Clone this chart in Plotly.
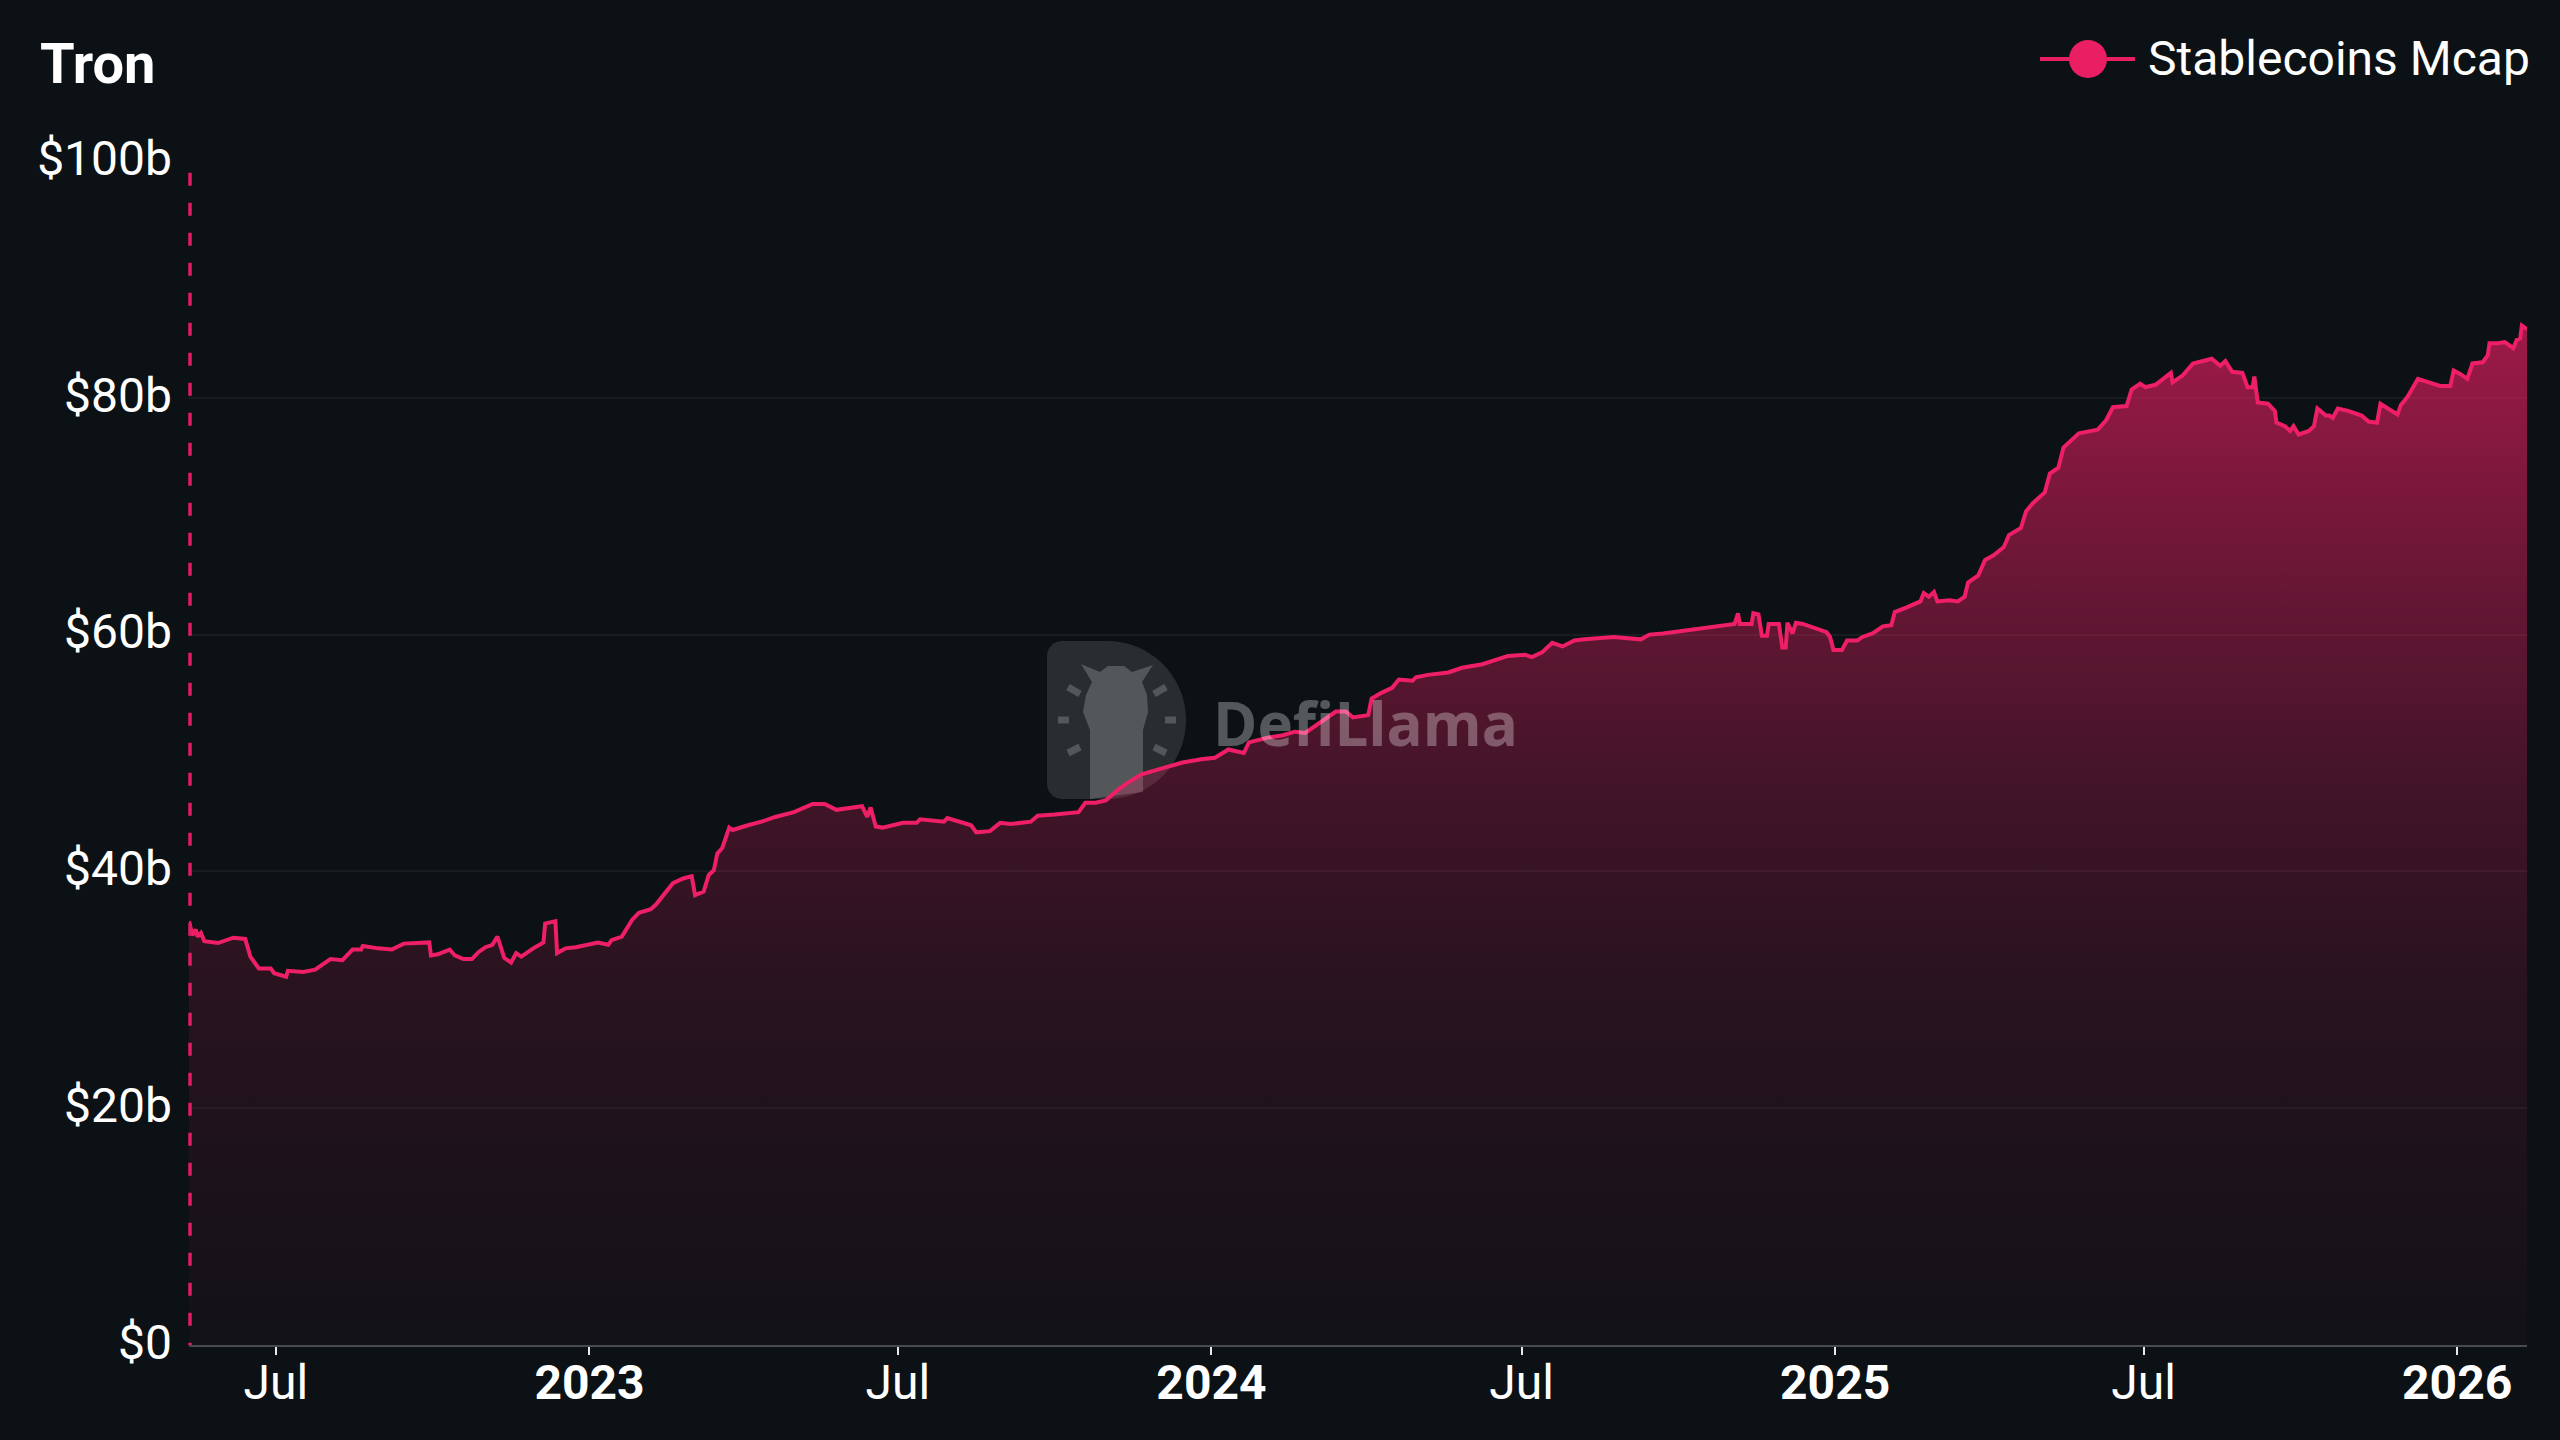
import plotly.graph_objects as go
import numpy as np

# ---------------- data ----------------
dates = [
    "2022-05-11", "2022-05-13", "2022-05-15", "2022-05-16", "2022-05-18", "2022-05-20",
    "2022-05-28", "2022-06-06", "2022-06-13", "2022-06-16", "2022-06-21", "2022-06-28",
    "2022-06-30", "2022-07-07", "2022-07-08", "2022-07-17", "2022-07-24", "2022-08-02",
    "2022-08-09", "2022-08-15", "2022-08-20", "2022-08-21", "2022-08-30", "2022-09-07",
    "2022-09-14", "2022-09-29", "2022-09-30", "2022-10-04", "2022-10-11", "2022-10-14",
    "2022-10-19", "2022-10-24", "2022-10-28", "2022-11-01", "2022-11-05", "2022-11-08",
    "2022-11-12", "2022-11-16", "2022-11-19", "2022-11-22", "2022-11-29", "2022-12-05",
    "2022-12-06", "2022-12-12", "2022-12-13", "2022-12-18", "2022-12-24", "2022-12-30",
    "2023-01-06", "2023-01-12", "2023-01-14", "2023-01-20", "2023-01-26", "2023-01-30",
    "2023-02-06", "2023-02-09", "2023-02-15", "2023-02-19", "2023-02-25", "2023-03-02",
    "2023-03-04", "2023-03-09", "2023-03-12", "2023-03-15", "2023-03-17", "2023-03-20",
    "2023-03-24", "2023-03-26", "2023-04-04", "2023-04-12", "2023-04-20", "2023-05-01",
    "2023-05-12", "2023-05-19", "2023-05-26", "2023-06-03", "2023-06-10", "2023-06-13",
    "2023-06-15", "2023-06-18", "2023-06-22", "2023-07-04", "2023-07-12", "2023-07-14",
    "2023-07-28", "2023-07-30", "2023-08-13", "2023-08-16", "2023-08-24", "2023-08-30",
    "2023-09-05", "2023-09-17", "2023-09-21", "2023-10-01", "2023-10-07", "2023-10-15",
    "2023-10-19", "2023-10-25", "2023-10-31", "2023-11-08", "2023-11-13", "2023-11-21",
    "2023-12-03", "2023-12-15", "2023-12-27", "2024-01-03", "2024-01-11", "2024-01-20",
    "2024-01-23", "2024-02-03", "2024-02-12", "2024-02-19", "2024-02-25", "2024-03-04",
    "2024-03-10", "2024-03-14", "2024-03-20", "2024-03-24", "2024-04-02", "2024-04-04",
    "2024-04-10", "2024-04-16", "2024-04-20", "2024-04-28", "2024-04-30", "2024-05-07",
    "2024-05-19", "2024-05-27", "2024-06-08", "2024-06-17", "2024-06-23", "2024-07-03",
    "2024-07-07", "2024-07-13", "2024-07-19", "2024-07-25", "2024-08-01", "2024-08-07",
    "2024-08-14", "2024-08-24", "2024-09-09", "2024-09-14", "2024-09-22", "2024-10-02",
    "2024-10-12", "2024-10-21", "2024-10-30", "2024-11-03", "2024-11-05", "2024-11-06",
    "2024-11-13", "2024-11-14", "2024-11-17", "2024-11-19", "2024-11-22", "2024-11-23",
    "2024-11-29", "2024-12-01", "2024-12-03", "2024-12-04", "2024-12-07", "2024-12-09",
    "2024-12-13", "2024-12-19", "2024-12-27", "2024-12-29", "2024-12-31", "2025-01-05",
    "2025-01-08", "2025-01-14", "2025-01-17", "2025-01-23", "2025-01-29", "2025-02-03",
    "2025-02-05", "2025-02-12", "2025-02-20", "2025-02-22", "2025-02-25", "2025-02-28",
    "2025-03-02", "2025-03-09", "2025-03-14", "2025-03-18", "2025-03-20", "2025-03-26",
    "2025-03-30", "2025-04-04", "2025-04-10", "2025-04-13", "2025-04-20", "2025-04-23",
    "2025-04-27", "2025-05-04", "2025-05-07", "2025-05-12", "2025-05-15", "2025-05-24",
    "2025-05-30", "2025-06-04", "2025-06-09", "2025-06-13", "2025-06-21", "2025-06-24",
    "2025-06-29", "2025-07-02", "2025-07-08", "2025-07-14", "2025-07-17", "2025-07-18",
    "2025-07-24", "2025-07-30", "2025-08-10", "2025-08-15", "2025-08-18", "2025-08-22",
    "2025-08-28", "2025-08-31", "2025-09-03", "2025-09-04", "2025-09-06", "2025-09-12",
    "2025-09-16", "2025-09-17", "2025-09-22", "2025-09-25", "2025-09-27", "2025-09-30",
    "2025-10-06", "2025-10-09", "2025-10-11", "2025-10-16", "2025-10-18", "2025-10-20",
    "2025-10-23", "2025-10-29", "2025-11-06", "2025-11-10", "2025-11-15", "2025-11-17",
    "2025-11-23", "2025-11-27", "2025-11-29", "2025-12-03", "2025-12-09", "2025-12-15",
    "2025-12-22", "2025-12-28", "2025-12-30", "2026-01-03", "2026-01-07", "2026-01-10",
    "2026-01-16", "2026-01-19", "2026-01-20", "2026-01-25", "2026-01-29", "2026-02-03",
    "2026-02-05", "2026-02-07", "2026-02-08", "2026-02-11",
]

mcap = [  # stablecoins market cap, $ billions
    35.8, 34.6, 35.1, 34.5, 34.8, 34.1,
    33.95, 34.4, 34.3, 32.8, 31.8, 31.8,
    31.4, 31.1, 31.6, 31.5, 31.7, 32.6,
    32.5, 33.4, 33.4, 33.7, 33.5, 33.4,
    33.9, 34.0, 32.9, 33.0, 33.4, 32.9,
    32.6, 32.6, 33.2, 33.6, 33.8, 34.5,
    32.7, 32.3, 33.1, 32.8, 33.5, 34.0,
    35.6, 35.8, 33.1, 33.5, 33.6, 33.8,
    34.0, 33.8, 34.2, 34.5, 35.9, 36.5,
    36.8, 37.2, 38.3, 39.0, 39.4, 39.6,
    38.0, 38.3, 39.7, 40.1, 41.5, 42.0,
    43.7, 43.5, 43.9, 44.2, 44.6, 45.0,
    45.7, 45.7, 45.2, 45.4, 45.5, 44.6,
    45.4, 43.8, 43.7, 44.1, 44.1, 44.4,
    44.2, 44.5, 43.9, 43.3, 43.4, 44.1,
    44.0, 44.2, 44.7, 44.8, 44.9, 45.0,
    45.8, 45.8, 46.0, 47.0, 47.5, 48.2,
    48.7, 49.2, 49.5, 49.6, 50.3, 50.0,
    50.9, 51.3, 51.5, 51.8, 51.7, 52.5,
    53.0, 53.5, 53.5, 53.0, 53.2, 54.6,
    55.1, 55.5, 56.2, 56.1, 56.4, 56.6,
    56.8, 57.2, 57.5, 57.9, 58.2, 58.3,
    58.1, 58.5, 59.3, 59.0, 59.5, 59.6,
    59.7, 59.8, 59.6, 60.0, 60.1, 60.3,
    60.5, 60.6, 60.8, 60.9, 61.8, 60.9,
    60.9, 61.8, 61.7, 59.9, 59.9, 60.9,
    60.9, 58.9, 58.9, 61.0, 60.1, 61.0,
    60.9, 60.6, 60.2, 59.8, 58.7, 58.7,
    59.5, 59.5, 59.8, 60.1, 60.7, 60.8,
    61.9, 62.3, 62.8, 63.5, 63.2, 63.6,
    62.8, 62.9, 62.8, 63.2, 64.4, 65.0,
    66.3, 66.7, 67.4, 68.4, 69.0, 70.4,
    71.1, 72.0, 73.6, 74.1, 75.8, 77.0,
    77.2, 77.3, 78.1, 79.2, 79.3, 80.7,
    81.2, 80.9, 81.1, 81.8, 82.1, 81.3,
    81.9, 82.9, 83.3, 82.7, 83.1, 82.2,
    82.1, 80.9, 80.9, 81.8, 79.6, 79.5,
    78.9, 77.9, 77.6, 77.2, 77.6, 76.9,
    77.2, 77.6, 79.1, 78.5, 78.5, 78.3,
    79.1, 78.9, 78.5, 78.0, 77.9, 79.5,
    79.0, 78.6, 79.4, 80.1, 81.6, 81.3,
    81.0, 81.0, 82.3, 82.0, 81.6, 82.9,
    83.0, 83.6, 84.6, 84.6, 84.7, 84.2,
    84.9, 85.0, 86.1, 85.8,
]

x_tick_dates = ["2022-07-01", "2023-01-01", "2023-07-01", "2024-01-01",
                "2024-07-01", "2025-01-01", "2025-07-01", "2026-01-01"]
x_tick_labels = ["Jul", "<b>2023</b>", "Jul", "<b>2024</b>",
                 "Jul", "<b>2025</b>", "Jul", "<b>2026</b>"]
y_tick_vals = [0, 20, 40, 60, 80, 100]
y_tick_labels = ["$0", "$20b", "$40b", "$60b", "$80b", "$100b"]

title_text = "Tron"
series_name = "Stablecoins Mcap"
watermark_text = "DefiLlama"

# ---------------- styling / geometry ----------------
W, H = 2560, 1440
ML, MR, MT, MB = 189, 33, 161, 95
BG = "#0b1114"
PINK = "#ee1f66"
FONT = "Roboto"


def px(x):
    return (x - ML) / (W - ML - MR)


def py(y):
    return (H - MB - y) / (H - MT - MB)


fig = go.Figure()

fig.add_trace(go.Scatter(
    x=dates, y=mcap, mode="lines", name=series_name,
    line=dict(color=PINK, width=4),
    fill="tozeroy",
    fillgradient=dict(
        type="vertical",
        start=0, stop=max(mcap),
        colorscale=[
            [0.0, "rgba(233,30,99,0.03)"],
            [0.35, "rgba(233,30,99,0.13)"],
            [0.55, "rgba(233,30,99,0.25)"],
            [0.75, "rgba(233,30,99,0.42)"],
            [1.0, "rgba(233,30,99,0.66)"],
        ],
    ),
    showlegend=False, hoverinfo="skip",
))

shapes = []

# watermark logo (drawn below the data)
cx, cy, r = 1107, 720, 79
left, top, bot, cr = 1047, 641, 799, 15
pts = [(left + cr, top), (cx, top)]
for a in np.linspace(-np.pi / 2, np.pi / 2, 40):
    pts.append((cx + r * np.cos(a), cy + r * np.sin(a)))
pts += [(left + cr, bot)]
for a in np.linspace(np.pi / 2, np.pi, 6):
    pts.append((left + cr + cr * np.cos(a), bot - cr + cr * np.sin(a)))
for a in np.linspace(np.pi, 1.5 * np.pi, 6):
    pts.append((left + cr + cr * np.cos(a), top + cr + cr * np.sin(a)))


def path_of(points):
    return "M " + " L ".join(f"{px(x):.5f},{py(y):.5f}" for x, y in points) + " Z"


shapes.append(dict(type="path", xref="paper", yref="paper", layer="below",
                   path=path_of(pts), fillcolor="rgba(255,255,255,0.12)",
                   line=dict(width=0)))
llama = [(1090, 799), (1090, 730), (1083, 712), (1086, 695), (1092, 682),
         (1081, 664), (1100, 672), (1108, 666), (1124, 666), (1132, 672),
         (1153, 665), (1142, 682), (1147, 695), (1148, 712), (1143, 730),
         (1143, 792)]
shapes.append(dict(type="path", xref="paper", yref="paper", layer="below",
                   path=path_of(llama), fillcolor="rgba(255,255,255,0.2)",
                   line=dict(width=0)))
for (x0, y0, x1, y1) in [(1068, 687, 1080, 694), (1058, 720, 1069, 720),
                         (1068, 753, 1080, 747), (1154, 694, 1166, 687),
                         (1165, 720, 1176, 720), (1154, 747, 1166, 753)]:
    shapes.append(dict(type="line", xref="paper", yref="paper", layer="below",
                       x0=px(x0), y0=py(y0), x1=px(x1), y1=py(y1),
                       line=dict(color="rgba(255,255,255,0.2)", width=7)))

# dashed marker at series start (paper ref so it is not clipped)
shapes.append(dict(type="line", xref="paper", yref="paper", x0=px(190), x1=px(190),
                   y0=0.99, y1=0, layer="above",
                   line=dict(color="#e01d62", width=3.5, dash="13px,17px")))

# custom legend (line + big dot)
shapes.append(dict(type="line", xref="paper", yref="paper",
                   x0=px(2040), x1=px(2135), y0=py(59), y1=py(59),
                   line=dict(color="#e91e63", width=4)))
shapes.append(dict(type="circle", xref="paper", yref="paper",
                   x0=px(2069), x1=px(2107), y0=py(78), y1=py(40),
                   fillcolor="#e91e63", line=dict(width=0)))

annotations = [
    dict(text=title_text, xref="paper", yref="paper", x=px(38), y=py(64),
         xanchor="left", yanchor="middle", showarrow=False,
         font=dict(family=FONT, size=56, color="#ffffff", weight="bold")),
    dict(text=series_name, xref="paper", yref="paper", x=px(2146), y=py(59),
         xanchor="left", yanchor="middle", showarrow=False,
         font=dict(family=FONT, size=48, color="#ffffff")),
    dict(text="<b>" + watermark_text + "</b>", xref="paper", yref="paper",
         x=px(1211), y=py(723), xanchor="left", yanchor="middle", showarrow=False,
         font=dict(family="Open Sans", size=60, color="rgba(255,255,255,0.3)")),
]

fig.update_layout(
    width=W, height=H,
    margin=dict(l=ML, r=MR, t=MT, b=MB, pad=0),
    paper_bgcolor=BG, plot_bgcolor=BG,
    font=dict(family=FONT, color="#ffffff"),
    shapes=shapes, annotations=annotations,
    showlegend=False,
    xaxis=dict(
        type="date", range=[dates[0], dates[-1]],
        tickmode="array", tickvals=x_tick_dates, ticktext=x_tick_labels,
        showgrid=False, zeroline=False,
        showline=True, linecolor="#474b4e", linewidth=2,
        ticks="outside", ticklen=8, tickwidth=2, tickcolor="#e8e8e8",
        ticklabelstandoff=-14,
        tickfont=dict(family=FONT, size=48, color="#ffffff"),
        automargin=False,
    ),
    yaxis=dict(
        range=[0, 100],
        tickmode="array", tickvals=y_tick_vals, ticktext=y_tick_labels,
        showgrid=True, gridcolor="#161c1f", gridwidth=2,
        zeroline=False, showline=False, ticks="",
        ticklabelstandoff=16, ticklabelshift=-3,
        tickfont=dict(family=FONT, size=48, color="#ffffff"),
        automargin=False,
    ),
)

fig.write_html(
    "out.html",
    config={"displayModeBar": False},
    post_script="document.body.style.margin='0';"
                "document.body.style.background='" + BG + "';",
)
